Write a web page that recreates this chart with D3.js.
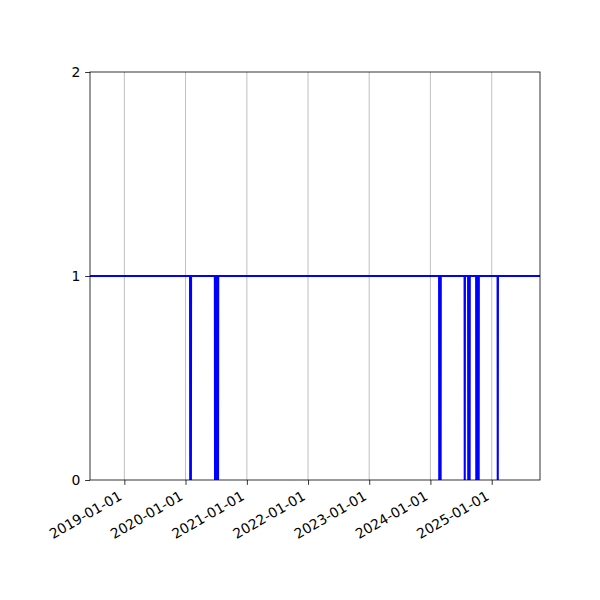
<!DOCTYPE html>
<html>
<head>
<meta charset="utf-8">
<script src="https://cdn.jsdelivr.net/npm/d3@7"></script>
<style>
  body { margin: 0; background: #fff; }
  svg { display: block; }
  text { font-family: "DejaVu Sans", sans-serif; }
</style>
</head>
<body>
<svg id="chart" width="600" height="600"></svg>
<script>
// ---- data ----
const xRange = ["2018-06-10", "2025-10-16"];
// dates on which the series reads 0 (all other days read 1)
const zeroDates = [
  "2020-01-29", "2020-01-31", "2020-02-02",
  "2020-06-25", "2020-06-27", "2020-06-29", "2020-07-01", "2020-07-03",
  "2020-07-05", "2020-07-07", "2020-07-09", "2020-07-11", "2020-07-13",
  "2024-02-23", "2024-02-25", "2024-02-27", "2024-02-29", "2024-03-02",
  "2024-07-24",
  "2024-08-14", "2024-08-16", "2024-08-18", "2024-08-20", "2024-08-22",
  "2024-10-01", "2024-10-03", "2024-10-05", "2024-10-07", "2024-10-09",
  "2024-10-11", "2024-10-13", "2024-10-15",
  "2025-02-06"
];
const normalValue = 1;
const outageValue = 0;
const xTickLabels = ["2019-01-01", "2020-01-01", "2021-01-01", "2022-01-01", "2023-01-01", "2024-01-01", "2025-01-01"];
const yTicks = [0, 1, 2];

// ---- layout ----
const parse = d3.utcParse("%Y-%m-%d");
const margin = { left: 90, right: 60, top: 72, bottom: 120 };
const W = 600, H = 600;
const x0 = margin.left, x1 = W - margin.right, y0 = margin.top, y1 = H - margin.bottom;

const x = d3.scaleUtc().domain(xRange.map(parse)).range([x0, x1]);
const y = d3.scaleLinear().domain([0, 2]).range([y1, y0]);

// build daily line table: neighbours of a zero day read 1
const pts = [[parse(xRange[0]), normalValue]];
zeroDates.forEach(s => {
  const d = parse(s);
  pts.push([d3.utcDay.offset(d, -1), normalValue], [d, outageValue], [d3.utcDay.offset(d, 1), normalValue]);
});
pts.push([parse(xRange[1]), normalValue]);

const svg = d3.select("#chart");
svg.append("rect").attr("width", W).attr("height", H).attr("fill", "#fff");

svg.append("defs").append("clipPath").attr("id", "clip")
  .append("rect").attr("x", x0).attr("y", y0).attr("width", x1 - x0).attr("height", y1 - y0);

const xTicks = xTickLabels.map(parse);

// grid (vertical only)
svg.append("g").selectAll("line").data(xTicks).join("line")
  .attr("x1", d => x(d)).attr("x2", d => x(d))
  .attr("y1", y0).attr("y2", y1)
  .attr("stroke", "#b0b0b0").attr("stroke-width", 0.8);

// line
svg.append("path")
  .datum(pts)
  .attr("clip-path", "url(#clip)")
  .attr("fill", "none")
  .attr("stroke", "#0000ff")
  .attr("stroke-width", 2.08)
  .attr("stroke-linejoin", "round")
  .attr("d", d3.line().x(d => x(d[0])).y(d => y(d[1])));

// spines
svg.append("rect").attr("x", x0).attr("y", y0).attr("width", x1 - x0).attr("height", y1 - y0)
  .attr("fill", "none").attr("stroke", "#000").attr("stroke-width", 0.8);

const fs = 13.9;
const tickLen = 4.86, pad = 4.86;

// x axis ticks via d3 axis
const xAxis = d3.axisBottom(x).tickValues(xTicks).tickSize(tickLen).tickFormat("");
const gx = svg.append("g").attr("transform", `translate(0,${y1})`).call(xAxis);
gx.select(".domain").remove();
gx.selectAll(".tick line").attr("stroke", "#000").attr("stroke-width", 0.8);

// rotated x labels (matplotlib autofmt_xdate style)
const asc = 0.76 * fs, desc = 0.223 * fs;
svg.append("g").selectAll("text").data(xTicks).join("text")
  .attr("transform", d => `translate(${x(d) - desc / 2},${y1 + tickLen + pad + asc * Math.cos(Math.PI / 6)}) rotate(-30)`)
  .attr("text-anchor", "end")
  .attr("font-size", fs)
  .attr("fill", "#000")
  .text((d, i) => xTickLabels[i]);

// y axis
const yAxis = d3.axisLeft(y).tickValues(yTicks).tickSize(tickLen).tickPadding(pad).tickFormat(d3.format("d"));
const gy = svg.append("g").attr("transform", `translate(${x0},0)`).call(yAxis);
gy.select(".domain").remove();
gy.selectAll(".tick line").attr("stroke", "#000").attr("stroke-width", 0.8);
gy.selectAll(".tick text").attr("font-size", fs).attr("fill", "#000")
  .attr("font-family", "DejaVu Sans, sans-serif");
</script>
</body>
</html>
